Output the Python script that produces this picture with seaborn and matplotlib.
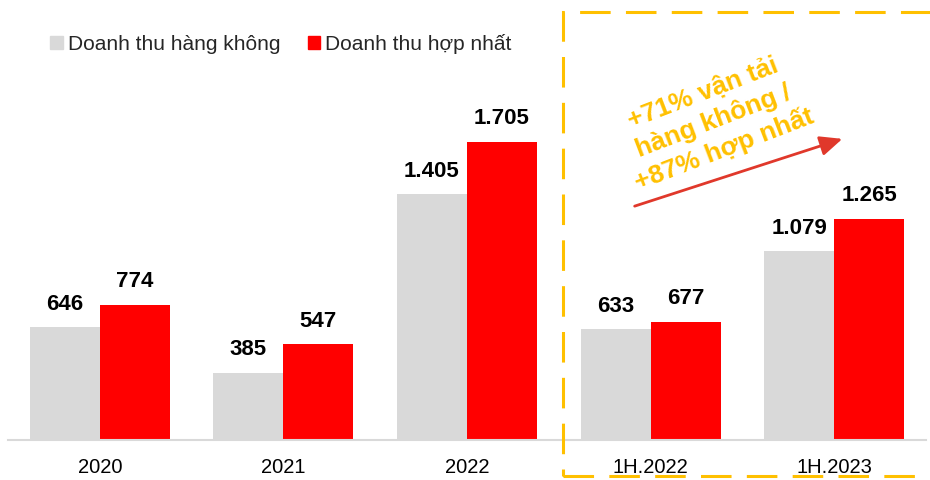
import matplotlib
matplotlib.use("Agg")
import matplotlib.pyplot as plt
import matplotlib.patches as mpatches
import seaborn as sns
import pandas as pd

categories = ["2020", "2021", "2022", "1H.2022", "1H.2023"]
series_names = ["Doanh thu hàng không", "Doanh thu hợp nhất"]
air_revenue = [646, 385, 1405, 633, 1079]
total_revenue = [774, 547, 1705, 677, 1265]
air_labels = ["646", "385", "1.405", "633", "1.079"]
total_labels = ["774", "547", "1.705", "677", "1.265"]
note_text = "+71% vận tải\nhàng không /\n+87% hợp nhất"

df = pd.DataFrame({
    "cat": categories * 2,
    "series": [series_names[0]] * len(categories) + [series_names[1]] * len(categories),
    "value": air_revenue + total_revenue,
})

sns.set_theme(style="white")
plt.rcParams["font.family"] = ["Liberation Sans", "DejaVu Sans"]

fig = plt.figure(figsize=(9.3, 4.8), dpi=100)
ax = fig.add_axes([8 / 930, 40 / 480, 918 / 930, 440 / 480])

sns.barplot(data=df, x="cat", y="value", hue="series", order=categories,
            hue_order=series_names, palette=["#D9D9D9", "#FF0000"],
            width=0.763, gap=0, saturation=1, linewidth=0, ax=ax, legend=False)

ax.set_xlim(-0.5, 4.5)
ax.set_ylim(0, 2517)
ax.set_xlabel("")
ax.set_ylabel("")
ax.set_yticks([])
for s in ["top", "right", "left"]:
    ax.spines[s].set_visible(False)
ax.spines["bottom"].set_color("#D9D9D9")
ax.spines["bottom"].set_linewidth(1.5)
ax.tick_params(axis="x", length=0, pad=13, labelsize=14.5, colors="black")

for container, labels in zip(ax.containers, [air_labels, total_labels]):
    ax.bar_label(container, labels=labels, padding=9, fontsize=16,
                 fontweight="bold", color="black")

# legend
handles = [mpatches.Patch(color="#D9D9D9"), mpatches.Patch(color="#FF0000")]
fig.legend(handles, series_names, loc="center left",
           bbox_to_anchor=(40 / 930, 1 - 44 / 480), ncol=2, frameon=False,
           fontsize=15, handlelength=0.6, handleheight=0.6,
           handletextpad=0.25, columnspacing=1.3, borderpad=0)

# dashed highlight box
rect = mpatches.Rectangle((563 / 930, 4 / 480), 400 / 930, 464 / 480,
                          transform=fig.transFigure, fill=False,
                          edgecolor="#FFC000", linewidth=2.2,
                          linestyle=(0, (10, 5)), clip_on=False)
fig.add_artist(rect)

# arrow
fig.add_artist(mpatches.FancyArrowPatch(
    (632 / 930, 1 - 207 / 480), (845 / 930, 1 - 138 / 480),
    transform=fig.transFigure, arrowstyle="-|>,head_length=9,head_width=4",
    color="#E0382B", linewidth=2, mutation_scale=1.5))

fig.text(714 / 930, 1 - 122 / 480, note_text, rotation=21, ha="center",
         va="center", multialignment="center", fontsize=19, fontweight="bold",
         color="#FFC000", linespacing=1.25)

fig.savefig("out.png", dpi=100)
